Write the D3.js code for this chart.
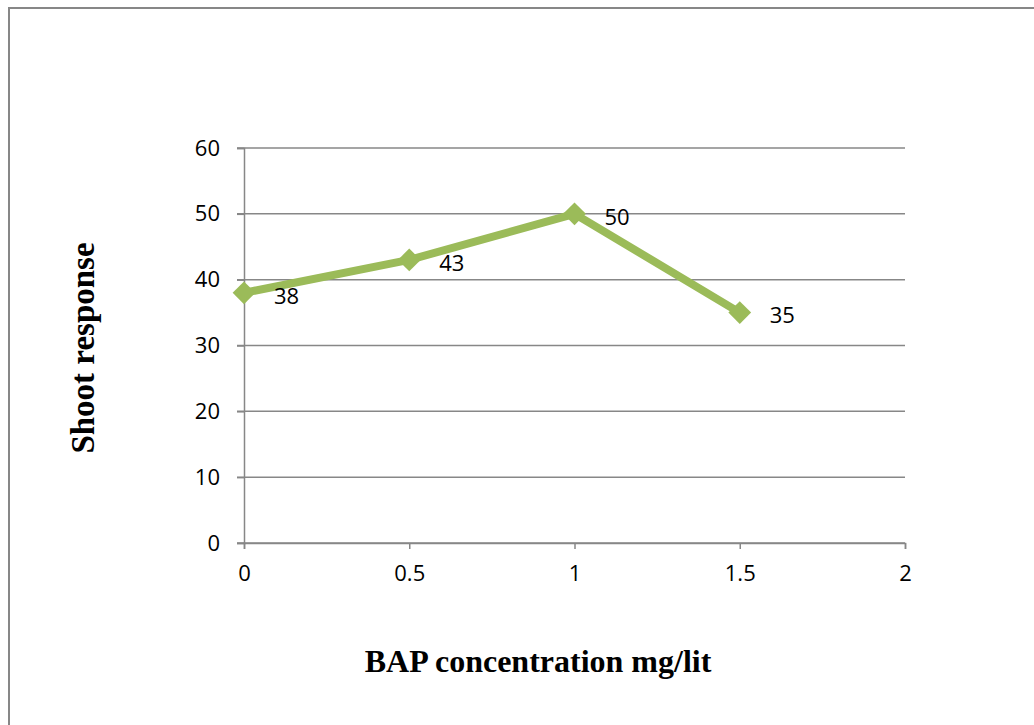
<!DOCTYPE html>
<html>
<head>
<meta charset="utf-8">
<script src="https://cdn.jsdelivr.net/npm/d3@7"></script>
<style>
  body { margin: 0; background: #fff; }
  .tick text { font-family: "Open Sans", "Liberation Sans", sans-serif; font-size: 22px; fill: #000; }
  .axislabel { font-family: "Liberation Serif", "DejaVu Serif", serif; font-weight: bold; font-size: 32px; fill: #000; }
  .datalabel { font-family: "Open Sans", "Liberation Sans", sans-serif; font-size: 22px; fill: #000; }
</style>
</head>
<body>
<svg id="chart" width="1034" height="725"></svg>
<script>
var concentrations = [0, 0.5, 1, 1.5];
var shootResponse = [38, 43, 50, 35];
var xTicks = [0, 0.5, 1, 1.5, 2];
var yTicks = [0, 10, 20, 30, 40, 50, 60];

var svg = d3.select("#chart");
var lineColor = "#9bbb59",
    gridColor = "#878787";

// outer frame (only top and left edges visible)
svg.append("path")
    .attr("d", "M9,725 V8 H1034")
    .attr("fill", "none")
    .attr("stroke", gridColor)
    .attr("stroke-width", 2);

var xscale = d3.scaleLinear().domain([0, 2]).range([244, 905]);
var yscale = d3.scaleLinear().domain([0, 60]).range([543, 148]);

// gridlines
svg.append("g")
    .selectAll("line")
    .data(yTicks)
    .enter()
    .append("line")
    .attr("x1", xscale(0) - 7)
    .attr("x2", xscale(2))
    .attr("y1", function(d) { return yscale(d); })
    .attr("y2", function(d) { return yscale(d); })
    .attr("stroke", gridColor)
    .attr("stroke-width", 1.5);

// y axis
var yaxis = svg.append("g")
    .attr("transform", "translate(" + xscale(0) + ",0)")
    .call(d3.axisLeft(yscale).tickValues(yTicks).tickSize(7).tickPadding(17));
yaxis.select(".domain").attr("stroke", gridColor).attr("stroke-width", 1.5);
yaxis.selectAll(".tick line").attr("stroke", gridColor).attr("stroke-width", 1.5);

// x axis
var xaxis = svg.append("g")
    .attr("transform", "translate(0," + yscale(0) + ")")
    .call(d3.axisBottom(xscale).tickValues(xTicks).tickSize(6).tickPadding(16)
            .tickFormat(function(d) { return String(d); }));
xaxis.select(".domain").attr("stroke", gridColor).attr("stroke-width", 1.5);
xaxis.selectAll(".tick line").attr("stroke", gridColor).attr("stroke-width", 1.5);

// line
var lineFunction = d3.line()
    .x(function(d, i) { return xscale(concentrations[i]); })
    .y(function(d) { return yscale(d); });

svg.append("path")
    .attr("d", lineFunction(shootResponse))
    .attr("stroke", lineColor)
    .attr("stroke-width", 8)
    .attr("stroke-linejoin", "round")
    .attr("fill", "none");

// diamond markers
svg.selectAll("path.marker")
    .data(shootResponse)
    .enter()
    .append("path")
    .attr("class", "marker")
    .attr("d", d3.symbol().type(d3.symbolDiamond2).size(330))
    .attr("transform", function(d, i) { return "translate(" + xscale(concentrations[i]) + "," + yscale(d) + ")"; })
    .attr("fill", lineColor);

// data labels
svg.selectAll("text.datalabel")
    .data(shootResponse)
    .enter()
    .append("text")
    .attr("class", "datalabel")
    .attr("x", function(d, i) { return xscale(concentrations[i]) + 30; })
    .attr("y", function(d) { return yscale(d) + 3; })
    .attr("dy", "0.35em")
    .text(function(d) { return d; });

// axis titles
svg.append("text")
    .attr("class", "axislabel")
    .attr("transform", "translate(94,348) rotate(-90)")
    .attr("text-anchor", "middle")
    .style("font-size", "33px")
    .text("Shoot response");

svg.append("text")
    .attr("class", "axislabel")
    .attr("x", 538)
    .attr("y", 672)
    .attr("text-anchor", "middle")
    .text("BAP concentration mg/lit");
</script>
</body>
</html>
